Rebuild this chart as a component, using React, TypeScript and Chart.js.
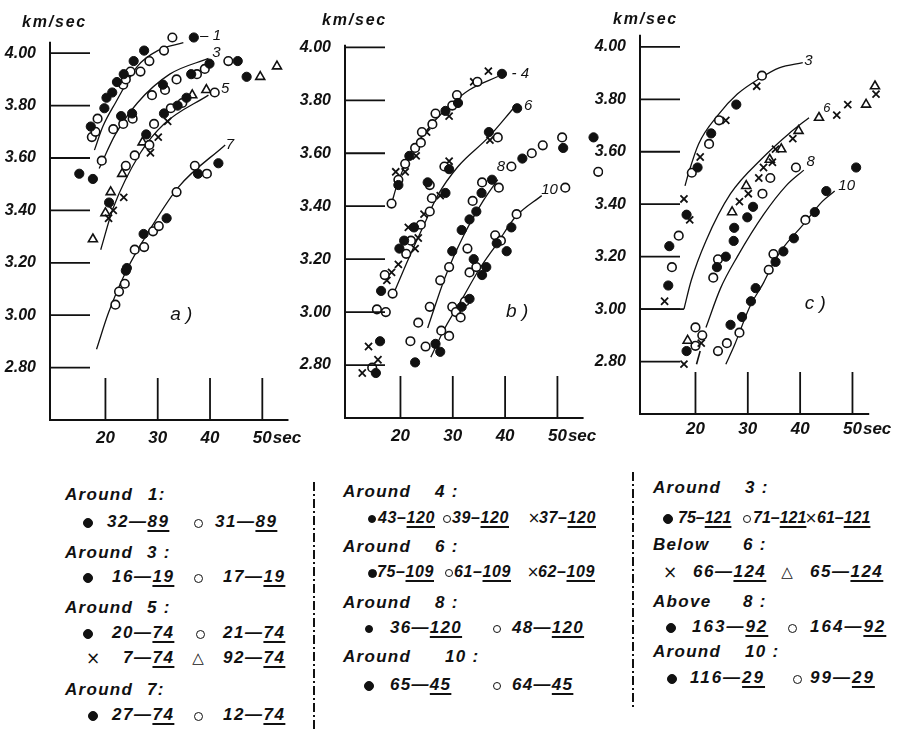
import React, { useEffect, useRef } from "react";
import { Chart, registerables } from "chart.js";

Chart.register(...registerables);

type Pt = [number, number];

const INK = "#111111";
const LF = '"Liberation Sans", Arial, sans-serif';
const SYMF = '"DejaVu Sans", sans-serif';

// ---------- axis ticks ----------
const yTickValues = [2.8, 3.0, 3.2, 3.4, 3.6, 3.8, 4.0];
const xTickValues = [20, 30, 40, 50];
const xTickLabels = ["20", "30", "40", "50"];
const xUnit = "sec";
const yUnit = "km/sec";

// ---------- panel a ----------
const aRound1Filled: Pt[] = [[17.2, 3.72], [19.8, 3.79], [20.2, 3.83], [21.3, 3.85], [22.2, 3.89], [23.5, 3.92], [25.4, 3.97], [27.4, 4.01], [36.9, 4.06]];
const aRound1Open: Pt[] = [[17.4, 3.68], [18.1, 3.7], [18.5, 3.75], [23.4, 3.88], [23.9, 3.9], [24.8, 3.93], [26.7, 3.93], [28.4, 3.97], [31.2, 4.01], [32.8, 4.06]];
const aRound3Filled: Pt[] = [[15.0, 3.54], [17.6, 3.52], [23.0, 3.76], [25.1, 3.77], [31.0, 3.88], [36.4, 3.92], [39.9, 3.96], [45.3, 3.97], [47.0, 3.91]];
const aRound3Open: Pt[] = [[19.3, 3.59], [21.5, 3.71], [23.4, 3.73], [25.2, 3.75], [28.9, 3.84], [31.4, 3.86], [33.6, 3.9], [37.5, 3.92], [39.0, 3.94], [43.5, 3.97]];
const aRound5Filled: Pt[] = [[20.7, 3.43], [27.8, 3.69], [31.2, 3.77], [33.8, 3.8], [35.5, 3.83]];
const aRound5Open: Pt[] = [[23.9, 3.57], [25.6, 3.61], [28.4, 3.65], [29.3, 3.73], [32.5, 3.79], [34.7, 3.81], [40.9, 3.85]];
const aRound5Cross: Pt[] = [[20.6, 3.37], [21.5, 3.4], [23.5, 3.45], [28.6, 3.62], [30.1, 3.68], [31.9, 3.74]];
const aRound5Tri: Pt[] = [[17.6, 3.29], [20.0, 3.39], [21.0, 3.47], [23.2, 3.54], [27.1, 3.66], [36.6, 3.84], [39.3, 3.86], [49.6, 3.91], [52.8, 3.95]];
const aRound7Filled: Pt[] = [[23.9, 3.17], [24.1, 3.18], [27.3, 3.31], [31.7, 3.37], [37.7, 3.54], [41.6, 3.58]];
const aRound7Open: Pt[] = [[21.9, 3.04], [22.6, 3.09], [23.7, 3.12], [25.6, 3.25], [27.4, 3.26], [29.1, 3.32], [30.2, 3.34], [33.6, 3.47], [37.1, 3.57], [39.4, 3.54]];
const aCurve1: Pt[] = [[17.9, 3.63], [19.5, 3.72], [21.9, 3.81], [26.1, 3.95], [30.0, 4.01], [34.9, 4.04]];
const aCurve3: Pt[] = [[18.8, 3.56], [21.9, 3.69], [26.1, 3.81], [32.3, 3.92], [39.7, 3.98]];
const aCurve5: Pt[] = [[19.1, 3.25], [21.5, 3.41], [26.7, 3.62], [31.2, 3.73], [39.7, 3.84]];
const aCurve7: Pt[] = [[18.3, 2.87], [20.6, 3.01], [24.0, 3.17], [28.6, 3.33], [34.0, 3.49], [42.9, 3.65]];

// ---------- panel b ----------
const bRound4Filled: Pt[] = [[19.6, 3.48], [21.7, 3.59], [28.6, 3.76], [31.0, 3.79], [39.4, 3.9]];
const bRound4Open: Pt[] = [[18.3, 3.41], [19.6, 3.5], [20.9, 3.56], [22.8, 3.62], [23.9, 3.64], [24.1, 3.68], [26.1, 3.71], [26.7, 3.75], [29.9, 3.78], [30.8, 3.82], [34.7, 3.87]];
const bRound4Cross: Pt[] = [[19.1, 3.53], [20.9, 3.53], [23.0, 3.59], [25.0, 3.68], [29.3, 3.74], [34.0, 3.87], [36.8, 3.91]];
const bRound6Filled: Pt[] = [[15.3, 2.77], [16.1, 2.89], [16.3, 3.08], [19.8, 3.24], [20.7, 3.27], [22.6, 3.32], [25.2, 3.49], [28.6, 3.45], [29.3, 3.54], [36.9, 3.68], [42.3, 3.77]];
const bRound6Open: Pt[] = [[14.6, 2.79], [15.5, 3.01], [17.2, 3.0], [17.0, 3.14], [18.5, 3.07], [21.1, 3.22], [22.0, 3.27], [23.9, 3.33], [25.6, 3.38], [26.0, 3.43], [25.6, 3.48], [28.4, 3.55], [38.6, 3.66]];
const bRound6Cross: Pt[] = [[12.7, 2.77], [13.9, 2.87], [15.7, 2.82], [17.4, 3.12], [18.3, 3.15], [19.6, 3.18], [22.8, 3.24], [23.4, 3.28], [21.5, 3.32], [24.5, 3.37], [27.6, 3.44], [29.3, 3.57], [37.1, 3.65]];
const bRound8Filled: Pt[] = [[22.8, 2.81], [29.9, 3.23], [31.7, 3.31], [33.2, 3.35], [34.5, 3.38], [35.5, 3.45], [37.5, 3.5], [43.3, 3.58], [51.1, 3.62], [56.9, 3.66]];
const bRound8Open: Pt[] = [[21.9, 2.89], [23.4, 2.96], [24.8, 2.87], [25.6, 3.02], [27.6, 3.12], [29.3, 3.17], [32.8, 3.24], [33.8, 3.42], [35.6, 3.49], [38.8, 3.47], [41.2, 3.55], [45.1, 3.6], [47.2, 3.63], [50.9, 3.66], [57.8, 3.53]];
const bRound10Filled: Pt[] = [[26.7, 2.88], [27.6, 2.85], [31.7, 3.02], [33.2, 3.05], [34.0, 3.2], [35.6, 3.14], [36.4, 3.17], [38.4, 3.26], [40.3, 3.23], [41.2, 3.32]];
const bRound10Open: Pt[] = [[27.8, 2.93], [29.3, 2.91], [29.9, 3.02], [30.6, 3.0], [31.5, 2.98], [32.3, 3.04], [33.2, 3.15], [34.5, 3.17], [38.1, 3.29], [39.2, 3.27], [42.2, 3.37], [51.5, 3.47]];
const bCurve4: Pt[] = [[18.3, 3.41], [19.5, 3.49], [22.0, 3.6], [26.0, 3.71], [30.0, 3.79], [33.2, 3.84], [38.6, 3.89]];
const bCurve6: Pt[] = [[18.7, 3.07], [21.5, 3.2], [24.5, 3.33], [27.1, 3.44], [31.0, 3.55], [36.8, 3.66], [41.6, 3.77]];
const bCurve8: Pt[] = [[25.2, 2.94], [28.5, 3.13], [32.1, 3.29], [35.8, 3.42], [38.6, 3.5]];
const bCurve10: Pt[] = [[25.8, 2.83], [28.5, 2.94], [31.5, 3.04], [35.0, 3.16], [38.5, 3.26], [42.0, 3.36], [47.0, 3.44]];

// ---------- panel c ----------
const cRound3Filled: Pt[] = [[14.8, 3.09], [15.0, 3.24], [18.3, 3.36], [20.4, 3.54], [23.0, 3.67], [27.8, 3.78]];
const cRound3Open: Pt[] = [[15.5, 3.16], [16.8, 3.28], [19.3, 3.52], [22.6, 3.63], [24.5, 3.72], [32.7, 3.89]];
const cRound3Cross: Pt[] = [[14.1, 3.03], [17.8, 3.42], [18.9, 3.34], [20.9, 3.58], [25.8, 3.72], [31.7, 3.85]];
const cBelow6Cross: Pt[] = [[17.8, 2.79], [21.1, 2.87], [28.4, 3.41], [30.1, 3.44], [32.1, 3.5], [33.0, 3.54], [34.7, 3.56], [35.3, 3.61], [38.6, 3.65], [47.0, 3.74], [49.1, 3.78], [54.5, 3.82]];
const cBelow6Tri: Pt[] = [[18.5, 2.88], [27.0, 3.37], [29.7, 3.47], [34.2, 3.57], [36.4, 3.61], [39.7, 3.68], [43.6, 3.73], [52.6, 3.78], [54.3, 3.85]];
const cAbove8Filled: Pt[] = [[18.3, 2.84], [24.1, 3.16], [25.8, 3.2], [27.3, 3.26], [27.4, 3.31], [29.9, 3.35], [31.0, 3.39]];
const cAbove8Open: Pt[] = [[20.0, 2.86], [20.0, 2.93], [21.3, 2.9], [23.4, 3.12], [24.3, 3.19], [32.8, 3.44], [34.3, 3.5], [39.2, 3.54]];
const cRound10Filled: Pt[] = [[26.7, 2.94], [28.9, 2.97], [30.6, 3.03], [31.5, 3.08], [35.3, 3.18], [36.8, 3.22], [38.8, 3.27], [42.8, 3.37], [45.0, 3.45], [50.7, 3.54]];
const cRound10Open: Pt[] = [[24.3, 2.84], [26.0, 2.87], [28.4, 2.91], [34.0, 3.15], [34.9, 3.21], [41.0, 3.34]];
const cCurve3: Pt[] = [[18.0, 3.47], [18.7, 3.52], [20.6, 3.63], [24.3, 3.74], [28.0, 3.82], [32.3, 3.88], [36.0, 3.92], [40.5, 3.94]];
const cCurve6Base: Pt[] = [[9.4, 3.0], [17.8, 3.0]];
const cCurve6: Pt[] = [[17.8, 3.0], [19.2, 3.11], [22.0, 3.26], [26.7, 3.44], [33.0, 3.58], [37.9, 3.67], [41.7, 3.73]];
const cCurve8Stub: Pt[] = [[20.2, 2.79], [20.9, 2.84]];
const cCurve8: Pt[] = [[22.0, 2.93], [24.8, 3.08], [28.0, 3.2], [33.0, 3.36], [37.3, 3.47], [40.7, 3.53]];
const cCurve10: Pt[] = [[25.8, 2.79], [27.4, 2.86], [30.4, 3.01], [33.0, 3.1], [35.0, 3.18], [37.0, 3.24], [40.5, 3.32], [44.2, 3.41], [46.6, 3.45]];

type Kind = "filled" | "open" | "cross" | "tri";
interface Label { t: string; x: number; y: number; size?: number }
interface PanelCfg {
  left: number; width: number; height: number; bottom: number;
  xMax: number; yMax: number; axisTop: number; axisRight: number; xLabelOffset: number;
  series: { data: Pt[]; kind: Kind }[];
  curves: Pt[][];
  straight: Pt[][];
  labels: Label[];
}

const panelA: PanelCfg = {
  left: 0, width: 310, height: 460, bottom: 420,
  xMax: 9.4 + 260 / 5.37, yMax: 2.6 + 420 / 272.1, axisTop: 4.044, axisRight: 55.0, xLabelOffset: 18,
  series: [
    { data: aRound1Filled, kind: "filled" }, { data: aRound1Open, kind: "open" },
    { data: aRound3Filled, kind: "filled" }, { data: aRound3Open, kind: "open" },
    { data: aRound5Filled, kind: "filled" }, { data: aRound5Open, kind: "open" },
    { data: aRound5Cross, kind: "cross" }, { data: aRound5Tri, kind: "tri" },
    { data: aRound7Filled, kind: "filled" }, { data: aRound7Open, kind: "open" },
  ],
  curves: [aCurve1, aCurve3, aCurve5, aCurve7],
  straight: [],
  labels: [
    { t: "– 1", x: 40.1, y: 4.066 }, { t: "3", x: 41.2, y: 4.0 }, { t: "5", x: 42.9, y: 3.864 },
    { t: "7", x: 43.8, y: 3.65 }, { t: "a )", x: 34.5, y: 3.0, size: 19 },
  ],
};

const panelB: PanelCfg = {
  left: 295, width: 315, height: 458, bottom: 418,
  xMax: 9.4 + 265 / 5.37, yMax: 2.6 + 418 / 275, axisTop: 4.01, axisRight: 55.0, xLabelOffset: 18,
  series: [
    { data: bRound4Filled, kind: "filled" }, { data: bRound4Open, kind: "open" }, { data: bRound4Cross, kind: "cross" },
    { data: bRound6Filled, kind: "filled" }, { data: bRound6Open, kind: "open" }, { data: bRound6Cross, kind: "cross" },
    { data: bRound8Filled, kind: "filled" }, { data: bRound8Open, kind: "open" },
    { data: bRound10Filled, kind: "filled" }, { data: bRound10Open, kind: "open" },
  ],
  curves: [bCurve4, bCurve6, bCurve8, bCurve10],
  straight: [],
  labels: [
    { t: "- 4", x: 42.9, y: 3.9 }, { t: "6", x: 44.4, y: 3.78 }, { t: "8", x: 39.2, y: 3.55 },
    { t: "10", x: 48.5, y: 3.46 }, { t: "b )", x: 42.3, y: 3.0, size: 19 },
  ],
};

const panelC: PanelCfg = {
  left: 590, width: 317, height: 454, bottom: 414,
  xMax: 9.4 + 267 / 5.37, yMax: 2.6 + 414 / 272.5, axisTop: 4.046, axisRight: 53.2, xLabelOffset: 15,
  series: [
    { data: cRound3Filled, kind: "filled" }, { data: cRound3Open, kind: "open" }, { data: cRound3Cross, kind: "cross" },
    { data: cBelow6Cross, kind: "cross" }, { data: cBelow6Tri, kind: "tri" },
    { data: cAbove8Filled, kind: "filled" }, { data: cAbove8Open, kind: "open" },
    { data: cRound10Filled, kind: "filled" }, { data: cRound10Open, kind: "open" },
  ],
  curves: [cCurve3, cCurve6, cCurve8, cCurve10],
  straight: [cCurve6Base, cCurve8Stub],
  labels: [
    { t: "3", x: 41.6, y: 3.945 }, { t: "6", x: 45.1, y: 3.765, size: 13 }, { t: "8", x: 42.0, y: 3.56 },
    { t: "10", x: 48.9, y: 3.47 }, { t: "c )", x: 42.9, y: 3.02, size: 19 },
  ],
};

function markerStyle(kind: Kind) {
  switch (kind) {
    case "filled":
      return { pointStyle: "circle", pointRadius: 4.6, backgroundColor: INK, borderColor: INK, borderWidth: 1 };
    case "open":
      return { pointStyle: "circle", pointRadius: 4.3, backgroundColor: "#ffffff", borderColor: INK, borderWidth: 1.6 };
    case "cross":
      return { pointStyle: "crossRot", pointRadius: 5, backgroundColor: INK, borderColor: INK, borderWidth: 1.8 };
    default:
      return { pointStyle: "triangle", pointRadius: 5.2, backgroundColor: "#ffffff", borderColor: INK, borderWidth: 1.6 };
  }
}

const toXY = (pts: Pt[]) => pts.map(([x, y]) => ({ x, y }));

function Panel({ cfg }: { cfg: PanelCfg }) {
  const ref = useRef<HTMLCanvasElement>(null);
  useEffect(() => {
    const canvas = ref.current;
    if (!canvas) return;
    const datasets: any[] = [];
    cfg.series.forEach((s) => {
      datasets.push({ data: toXY(s.data), showLine: false, order: 0, ...markerStyle(s.kind) });
    });
    cfg.curves.forEach((c) => {
      datasets.push({
        data: toXY(c), showLine: true, pointRadius: 0, borderColor: INK, borderWidth: 1.3,
        cubicInterpolationMode: "monotone", fill: false, order: 5,
      });
    });
    cfg.straight.forEach((c) => {
      datasets.push({ data: toXY(c), showLine: true, pointRadius: 0, borderColor: INK, borderWidth: 1.6, tension: 0, fill: false, order: 5 });
    });

    const plugin = {
      id: "sketchAxes",
      afterDatasetsDraw(chart: any) {
        const { ctx, chartArea } = chart;
        const xs = chart.scales.x;
        const ys = chart.scales.y;
        const L = chartArea.left;
        const B = chartArea.bottom;
        ctx.save();
        ctx.strokeStyle = INK;
        ctx.lineWidth = 2;
        ctx.beginPath();
        ctx.moveTo(L, ys.getPixelForValue(cfg.axisTop));
        ctx.lineTo(L, B + 1);
        ctx.moveTo(L - 1, B);
        ctx.lineTo(xs.getPixelForValue(cfg.axisRight), B);
        ctx.stroke();
        ctx.lineWidth = 1.8;
        ctx.beginPath();
        for (const v of yTickValues) {
          const py = ys.getPixelForValue(v);
          ctx.moveTo(L, py);
          ctx.lineTo(L + 40, py);
        }
        for (const v of xTickValues) {
          const px = xs.getPixelForValue(v);
          ctx.moveTo(px, B);
          ctx.lineTo(px, B - 42);
        }
        ctx.stroke();

        ctx.fillStyle = INK;
        ctx.font = `italic bold 17px ${LF}`;
        ctx.textBaseline = "middle";
        ctx.textAlign = "center";
        xTickValues.forEach((v, i) => {
          ctx.fillText(xTickLabels[i], xs.getPixelForValue(v), B + cfg.xLabelOffset);
        });
        const lastIdx = xTickValues.length - 1;
        const w = ctx.measureText(xTickLabels[lastIdx]).width;
        ctx.textAlign = "left";
        ctx.fillText(xUnit, xs.getPixelForValue(xTickValues[lastIdx]) + w / 2 + 1, B + cfg.xLabelOffset);

        ctx.textAlign = "center";
        for (const lab of cfg.labels) {
          ctx.font = `italic ${lab.size ?? 15}px ${LF}`;
          ctx.fillText(lab.t, xs.getPixelForValue(lab.x), ys.getPixelForValue(lab.y));
        }
        ctx.restore();
      },
    };

    const chart = new Chart(canvas, {
      type: "scatter",
      data: { datasets },
      options: {
        animation: false,
        responsive: false,
        maintainAspectRatio: false,
        events: [],
        layout: { padding: { left: 0, right: 0, top: 0, bottom: cfg.height - cfg.bottom } },
        plugins: { legend: { display: false }, tooltip: { enabled: false } },
        scales: {
          x: { type: "linear", min: 9.4, max: cfg.xMax, display: false },
          y: {
            type: "linear",
            min: 2.6,
            max: cfg.yMax,
            grid: { display: false },
            border: { display: false },
            afterFit: (s: any) => { s.width = 50; },
            afterBuildTicks: (s: any) => { s.ticks = yTickValues.map((v) => ({ value: v })); },
            ticks: {
              color: INK,
              padding: 6,
              font: { family: LF, size: 16, style: "italic", weight: "bold" },
              callback: (v: any) => Number(v).toFixed(2),
            },
          },
        },
      } as any,
      plugins: [plugin],
    });
    return () => chart.destroy();
  }, [cfg]);
  return (
    <canvas
      ref={ref}
      width={cfg.width}
      height={cfg.height}
      style={{ position: "absolute", left: cfg.left, top: 0, width: cfg.width, height: cfg.height }}
    />
  );
}

// ---------- legend helpers ----------
function Txt({ x, cy, ls = 1.3, size = 17, children }: { x: number; cy: number; ls?: number; size?: number; children: any }) {
  return (
    <div
      style={{
        position: "absolute", left: x, top: cy - 11, height: 22, lineHeight: "22px",
        fontFamily: LF, fontStyle: "italic", fontWeight: "bold", fontSize: size,
        letterSpacing: ls, whiteSpace: "pre", color: INK,
      }}
    >
      {children}
    </div>
  );
}

function Sym({ cx, cy, ch, size = 15 }: { cx: number; cy: number; ch: string; size?: number }) {
  return (
    <div
      style={{
        position: "absolute", left: cx, top: cy - 11, height: 22, lineHeight: "22px",
        transform: "translateX(-50%)", fontFamily: SYMF, fontSize: size, color: INK,
      }}
    >
      {ch}
    </div>
  );
}

function Dot({ cx, cy, open = false, d = 9 }: { cx: number; cy: number; open?: boolean; d?: number }) {
  return (
    <div
      style={{
        position: "absolute", left: cx - d / 2, top: cy - d / 2 + 1, width: d, height: d, boxSizing: "border-box",
        borderRadius: "50%", border: `1.6px solid ${INK}`, background: open ? "#ffffff" : INK,
      }}
    />
  );
}

function Pair({ a, b, dash = "—" }: { a: string; b: string; dash?: string }) {
  return (
    <>
      {a}
      {dash}
      <span style={{ textDecoration: "underline", textDecorationThickness: "1.5px", textUnderlineOffset: "3px" }}>{b}</span>
    </>
  );
}

function Separator({ x, top, bottom }: { x: number; top: number; bottom: number }) {
  return (
    <div
      style={{
        position: "absolute", left: x, top, width: 1.6, height: bottom - top,
        backgroundImage: `repeating-linear-gradient(to bottom, ${INK} 0px, ${INK} 9px, transparent 9px, transparent 12px, ${INK} 12px, ${INK} 14px, transparent 14px, transparent 17px)`,
      }}
    />
  );
}

function UnitLabel({ x, cy }: { x: number; cy: number }) {
  return <Txt x={x} cy={cy} ls={1.8} size={16}>{yUnit}</Txt>;
}

export default function App() {
  return (
    <div style={{ position: "absolute", left: 0, top: 0, width: 907, height: 729, overflow: "hidden", background: "#ffffff" }}>
      <Panel cfg={panelA} />
      <Panel cfg={panelB} />
      <Panel cfg={panelC} />
      <UnitLabel x={22} cy={22} />
      <UnitLabel x={322} cy={20} />
      <UnitLabel x={613} cy={19} />

      {/* column 1 */}
      <Txt x={65} cy={495}>Around</Txt><Txt x={148} cy={495}>1:</Txt>
      <Dot cx={88} cy={522} d={10} /><Txt x={107} cy={522} ls={1.5}><Pair a="32" b="89" /></Txt>
      <Dot cx={198} cy={522} open /><Txt x={215} cy={522} ls={1.5}><Pair a="31" b="89" /></Txt>
      <Txt x={65} cy={553}>Around</Txt><Txt x={147} cy={553}>3 :</Txt>
      <Dot cx={88} cy={577} d={10} /><Txt x={112} cy={577} ls={1.5}><Pair a="16" b="19" /></Txt>
      <Dot cx={198} cy={577} open /><Txt x={223} cy={577} ls={1.5}><Pair a="17" b="19" /></Txt>
      <Txt x={65} cy={608}>Around</Txt><Txt x={147} cy={608}>5 :</Txt>
      <Dot cx={88} cy={633} d={10} /><Txt x={112} cy={633} ls={1.5}><Pair a="20" b="74" /></Txt>
      <Dot cx={200} cy={633} open /><Txt x={223} cy={633} ls={1.5}><Pair a="21" b="74" /></Txt>
      <Sym cx={93} cy={658} ch="×" size={17} /><Txt x={123} cy={658} ls={1.5}><Pair a="7" b="74" /></Txt>
      <Sym cx={198} cy={658} ch="△" /><Txt x={223} cy={658} ls={1.5}><Pair a="92" b="74" /></Txt>
      <Txt x={65} cy={690}>Around</Txt><Txt x={147} cy={690}>7:</Txt>
      <Dot cx={93} cy={715} d={10} /><Txt x={112} cy={715} ls={1.5}><Pair a="27" b="74" /></Txt>
      <Dot cx={198} cy={715} open /><Txt x={223} cy={715} ls={1.5}><Pair a="12" b="74" /></Txt>

      <Separator x={313} top={482} bottom={729} />

      {/* column 2 */}
      <Txt x={343} cy={492}>Around</Txt><Txt x={435} cy={492}>4 :</Txt>
      <Dot cx={372} cy={518} d={8} /><Txt x={378} cy={518} size={16} ls={0.6}><Pair a="43" b="120" dash="–" /></Txt>
      <Dot cx={447} cy={518} d={8} open /><Txt x={452} cy={518} size={16} ls={0.6}><Pair a="39" b="120" dash="–" /></Txt>
      <Sym cx={534} cy={518} ch="×" size={15} /><Txt x={539} cy={518} size={16} ls={0.6}><Pair a="37" b="120" dash="–" /></Txt>
      <Txt x={343} cy={547}>Around</Txt><Txt x={435} cy={547}>6 :</Txt>
      <Dot cx={372} cy={572} d={9} /><Txt x={377} cy={572} size={16} ls={0.6}><Pair a="75" b="109" dash="–" /></Txt>
      <Dot cx={449} cy={572} d={8} open /><Txt x={454} cy={572} size={16} ls={0.6}><Pair a="61" b="109" dash="–" /></Txt>
      <Sym cx={533} cy={572} ch="×" size={15} /><Txt x={538} cy={572} size={16} ls={0.6}><Pair a="62" b="109" dash="–" /></Txt>
      <Txt x={343} cy={603}>Around</Txt><Txt x={435} cy={603}>8 :</Txt>
      <Dot cx={369} cy={628} d={8} /><Txt x={390} cy={628} ls={1.3}><Pair a="36" b="120" /></Txt>
      <Dot cx={497} cy={628} d={8} open /><Txt x={512} cy={628} ls={1.3}><Pair a="48" b="120" /></Txt>
      <Txt x={343} cy={657}>Around</Txt><Txt x={445} cy={657}>10 :</Txt>
      <Dot cx={369} cy={685} d={10} /><Txt x={390} cy={685} ls={1.3}><Pair a="65" b="45" /></Txt>
      <Dot cx={497} cy={685} d={8} open /><Txt x={512} cy={685} ls={1.3}><Pair a="64" b="45" /></Txt>

      <Separator x={632} top={472} bottom={707} />

      {/* column 3 */}
      <Txt x={653} cy={488}>Around</Txt><Txt x={745} cy={488}>3 :</Txt>
      <Dot cx={668} cy={518} d={10} /><Txt x={678} cy={518} size={16} ls={0}><Pair a="75" b="121" dash="–" /></Txt>
      <Dot cx={747} cy={518} d={8} open /><Txt x={753} cy={518} size={16} ls={0}><Pair a="71" b="121" dash="–" /></Txt>
      <Sym cx={811} cy={518} ch="×" size={15} /><Txt x={817} cy={518} size={16} ls={0}><Pair a="61" b="121" dash="–" /></Txt>
      <Txt x={653} cy={545}>Below</Txt><Txt x={743} cy={545}>6 :</Txt>
      <Sym cx={670} cy={572} ch="×" size={17} /><Txt x={693} cy={572} ls={1.5}><Pair a="66" b="124" /></Txt>
      <Sym cx={787} cy={572} ch="△" /><Txt x={810} cy={572} ls={1.5}><Pair a="65" b="124" /></Txt>
      <Txt x={653} cy={602}>Above</Txt><Txt x={743} cy={602}>8 :</Txt>
      <Dot cx={671} cy={627} d={10} /><Txt x={692} cy={627} ls={2}><Pair a="163" b="92" /></Txt>
      <Dot cx={792} cy={627} open /><Txt x={810} cy={627} ls={2}><Pair a="164" b="92" /></Txt>
      <Txt x={653} cy={652}>Around</Txt><Txt x={745} cy={652}>10 :</Txt>
      <Dot cx={672} cy={678} d={10} /><Txt x={690} cy={678} ls={2}><Pair a="116" b="29" /></Txt>
      <Dot cx={797} cy={678} open /><Txt x={810} cy={678} ls={2}><Pair a="99" b="29" /></Txt>
    </div>
  );
}
